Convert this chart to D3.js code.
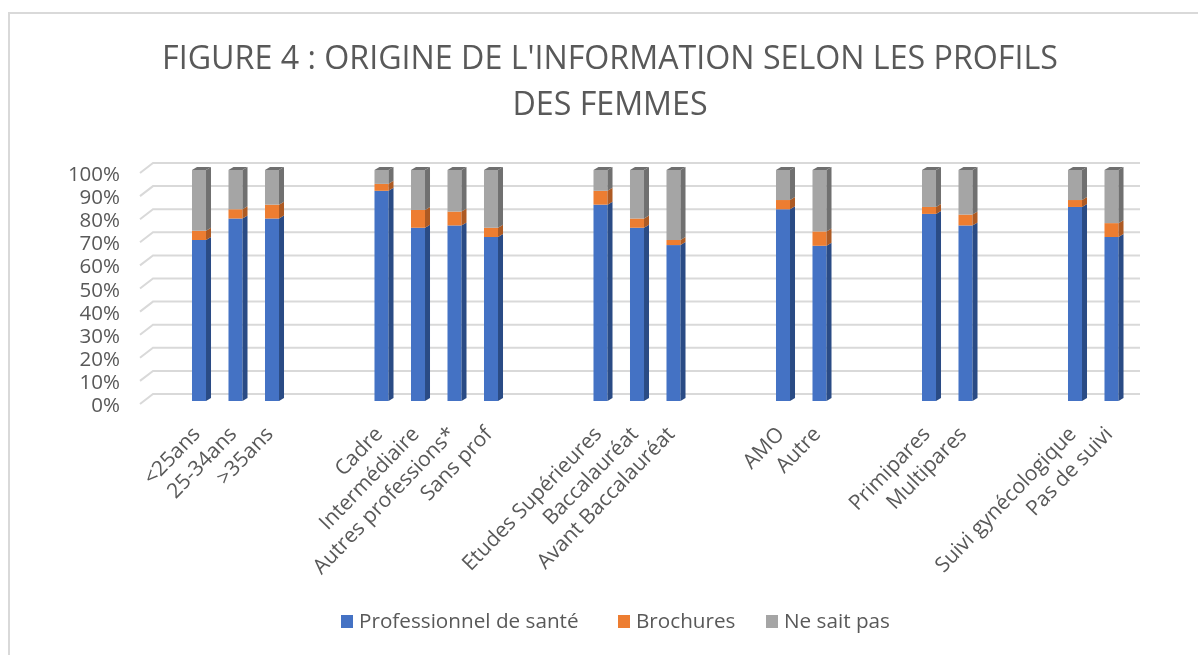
<!DOCTYPE html>
<html>
<head>
<meta charset="utf-8">
<script src="https://cdn.jsdelivr.net/npm/d3@7"></script>
<style>
    html, body { margin: 0; padding: 0; background: #fff; overflow: hidden; }
    svg { display: block; filter: blur(0.45px); }
    text { fill: #595959; }
</style>
</head>
<body>
<div id="chart"></div>
<script>
const titleLines = ["FIGURE 4 : ORIGINE DE L'INFORMATION SELON LES PROFILS", "DES FEMMES"];

// les cases vides font les espaces entre les groupes
const categories = ["", "<25ans", "25-34ans", ">35ans", "", "",
    "Cadre", "Intermédiaire", "Autres professions*", "Sans prof", "", "",
    "Etudes Supérieures", "Baccalauréat", "Avant Baccalauréat", "", "",
    "AMO", "Autre", "", "",
    "Primipares", "Multipares", "", "",
    "Suivi gynécologique", "Pas de suivi"];

const professionnel = [0, 69.7, 79, 79, 0, 0, 91, 75, 76, 71, 0, 0, 85, 75, 67.5, 0, 0, 83, 67.2, 0, 0, 81, 76, 0, 0, 84, 71];
const brochures     = [0, 4, 4, 6, 0, 0, 3, 7.7, 6, 4, 0, 0, 6, 4, 2.2, 0, 0, 4, 6.2, 0, 0, 3, 4.7, 0, 0, 3, 6];
const neSaitPas     = [0, 26.3, 17, 15, 0, 0, 6, 17.3, 18, 25, 0, 0, 9, 21, 30.3, 0, 0, 13, 26.6, 0, 0, 16, 19.3, 0, 0, 13, 23];

const seriesNames = ["Professionnel de santé", "Brochures", "Ne sait pas"];
const frontColors = ["#4472c4", "#ed7d31", "#a5a5a5"];
const sideColors = ["#2a4b85", "#ad5a23", "#707070"];
const yTicks = [0, 10, 20, 30, 40, 50, 60, 70, 80, 90, 100];

const paintChart = () => {
    const width = 1198, height = 655;
    const svg = d3.select("#chart").append("svg")
        .attr("width", width)
        .attr("height", height);

    // cadre du graphique (pas de bord bas ni droit visibles)
    svg.append("path")
        .attr("d", `M9,${height} V13 H${width}`)
        .attr("fill", "none")
        .attr("stroke", "#d9d9d9")
        .attr("stroke-width", 2);

    svg.append("g").selectAll("text")
        .data(titleLines)
        .enter()
        .append("text")
        .attr("x", 610)
        .attr("y", (d, i) => 69 + i * 46)
        .attr("text-anchor", "middle")
        .style("font-family", "'Open Sans'")
        .style("font-size", "32.2px")
        .text(d => d);

    const x = d3.scaleBand()
        .domain(d3.range(categories.length))
        .range([144.25, 1129.75])
        .paddingInner(0.616)
        .paddingOuter(0.308);

    const y = d3.scaleLinear().domain([0, 100]).range([404, 173]);

    // pseudo 3D : décalage du mur du fond et des barres
    const wallX = 13, wallY = 10, barLift = 3, depthX = 5, depthY = 3;

    const grid = svg.append("g");
    grid.selectAll("path")
        .data(yTicks)
        .enter()
        .append("path")
        .attr("d", d => `M140,${y(d)} L${140 + wallX},${y(d) - wallY} H1140`)
        .attr("fill", "none")
        .attr("stroke", "#d9d9d9")
        .attr("stroke-width", 2);

    const yAxis = d3.axisLeft(y)
        .tickValues(yTicks)
        .tickFormat(d => d + "%")
        .tickSize(0)
        .tickPadding(0);
    svg.append("g")
        .attr("transform", "translate(120,1)")
        .call(yAxis)
        .call(g => g.select(".domain").remove())
        .selectAll("text")
        .style("font-family", "'Open Sans'")
        .style("font-size", "20.5px")
        .style("fill", "#595959");

    const keys = [0, 1, 2];
    const rows = categories.map((c, i) => ({ i, 0: professionnel[i], 1: brochures[i], 2: neSaitPas[i] }));
    const stacked = d3.stack().keys(keys)(rows.filter(r => categories[r.i] !== ""));

    const layers = svg.append("g").selectAll("g")
        .data(stacked)
        .enter()
        .append("g");

    layers.selectAll("rect")
        .data(d => d)
        .enter()
        .append("rect")
        .attr("x", d => x(d.data.i))
        .attr("y", d => y(d[1]) - barLift)
        .attr("width", x.bandwidth())
        .attr("height", d => y(d[0]) - y(d[1]))
        .attr("fill", function () { return frontColors[d3.select(this.parentNode).datum().key]; });

    layers.selectAll("path")
        .data(d => d)
        .enter()
        .append("path")
        .attr("d", d => {
            const r = x(d.data.i) + x.bandwidth();
            const t = y(d[1]) - barLift, b = y(d[0]) - barLift;
            return `M${r},${t} l${depthX},${-depthY} V${b - depthY} L${r},${b} Z`;
        })
        .attr("fill", function () { return sideColors[d3.select(this.parentNode).datum().key]; });

    // dessus des barres
    svg.append("g").selectAll("path")
        .data(stacked[2])
        .enter()
        .append("path")
        .attr("d", d => {
            const l = x(d.data.i), t = y(d[1]) - barLift;
            return `M${l},${t} l${depthX},${-depthY} h${x.bandwidth()} l${-depthX},${depthY} Z`;
        })
        .attr("fill", "#6f6f6f");

    const xAxis = d3.axisBottom(x)
        .tickValues(d3.range(categories.length).filter(i => categories[i] !== ""))
        .tickFormat(i => categories[i])
        .tickSize(0);
    svg.append("g")
        .attr("transform", "translate(-3,430)")
        .call(xAxis)
        .call(g => g.select(".domain").remove())
        .selectAll("text")
        .attr("y", 0)
        .attr("dy", "0.35em")
        .attr("text-anchor", "end")
        .attr("transform", "rotate(-46)")
        .style("font-family", "'Open Sans'")
        .style("font-size", "21px")
        .style("fill", "#595959");

    const legendX = [341, 618, 766];
    const legend = svg.append("g").selectAll("g")
        .data(seriesNames)
        .enter()
        .append("g")
        .attr("transform", (d, i) => `translate(${legendX[i]},615)`);
    legend.append("rect")
        .attr("width", 12)
        .attr("height", 13)
        .attr("fill", (d, i) => frontColors[i]);
    legend.append("text")
        .attr("x", 18)
        .attr("y", 13)
        .style("font-family", "'Open Sans'")
        .style("font-size", "20.7px")
        .text(d => d);
};

document.addEventListener("DOMContentLoaded", paintChart);
</script>
</body>
</html>
